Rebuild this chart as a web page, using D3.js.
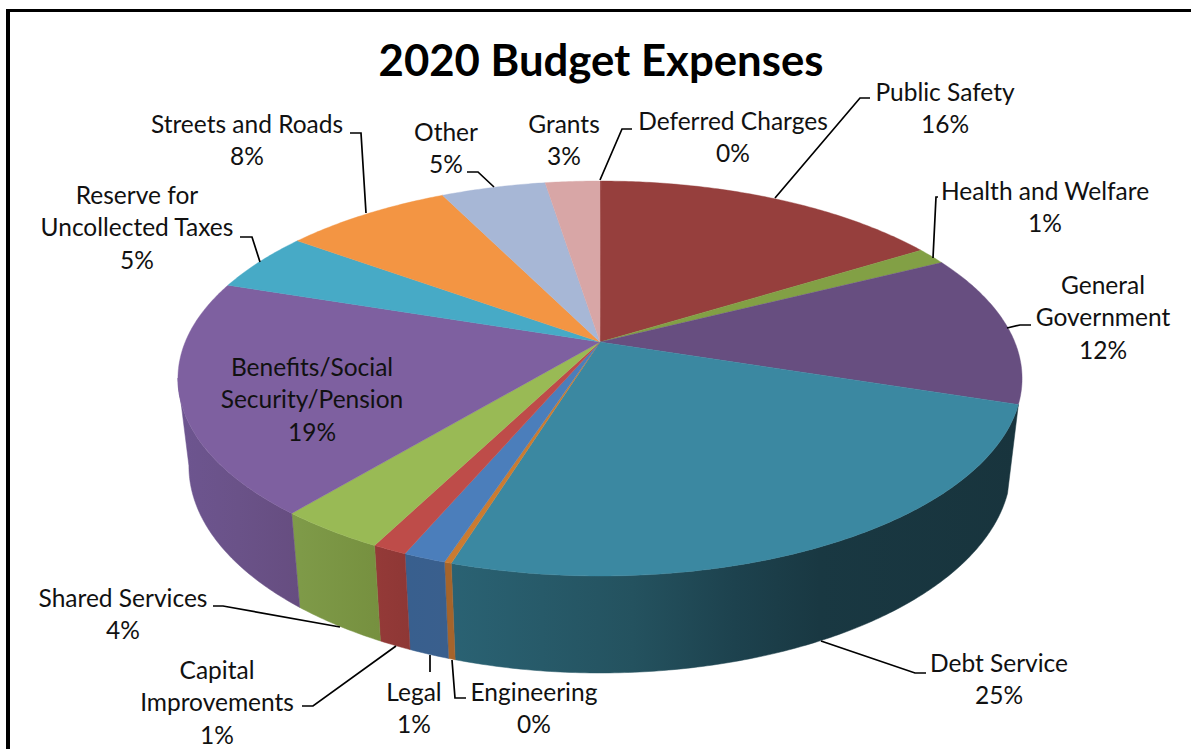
<!DOCTYPE html>
<html>
<head>
<meta charset="utf-8">
<script src="https://cdn.jsdelivr.net/npm/d3@7"></script>
<style>
  html, body { margin: 0; padding: 0; background: #fff; }
  text { font-family: Lato, "Open Sans", sans-serif; fill: #111; }
</style>
</head>
<body>
<div id="chart"></div>
<script>
// Values
let categories = ['Deferred Charges', 'Public Safety', 'Health and Welfare', 'General Government',
    'Debt Service', 'Engineering', 'Legal', 'Capital Improvements', 'Shared Services',
    'Benefits/Social Security/Pension', 'Reserve for Uncollected Taxes', 'Streets and Roads', 'Other', 'Grants'];
let values = [0.05, 16.1, 1.4, 12.45, 24.77, 0.23, 1.38, 1.12, 3.5, 19.1, 4.9, 7.7, 4.8, 2.5];

let topColors = ['#963f3d', '#963f3d', '#82a045', '#674e80', '#3b88a1', '#cb7b31', '#4b7ebb',
    '#be4c49', '#99ba55', '#7e60a0', '#47aac6', '#f39543', '#a7b7d6', '#d8a6a6'];
// side shading, left colour then right colour across the slice
let sideColors = {
    'Debt Service': [[0, '#2a6273'], [0.32, '#24525f'], [0.5, '#1d424e'], [0.65, '#193842'], [1, '#18343d']],
    'Engineering': [[0, '#a5642b'], [1, '#a5642b']],
    'Legal': [[0, '#385f8e'], [1, '#3a5f8d']],
    'Capital Improvements': [[0, '#943a38'], [1, '#8e3735']],
    'Shared Services': [[0, '#7f9b49'], [1, '#76903f']],
    'Benefits/Social Security/Pension': [[0, '#6d5590'], [0.5, '#6a5288'], [1, '#664d80']]
};

// Label lines are split by hand like the original
let labelLines = [['Deferred Charges'], ['Public Safety'], ['Health and Welfare'], ['General', 'Government'],
    ['Debt Service'], ['Engineering'], ['Legal'], ['Capital', 'Improvements'], ['Shared Services'],
    ['Benefits/Social', 'Security/Pension'], ['Reserve for', 'Uncollected Taxes'], ['Streets and Roads'], ['Other'], ['Grants']];

// label centre and first baseline
let labelPos = [[733, 129.5], [945, 100.5], [1045, 199.5], [1103, 293.5], [999, 671.5], [534, 700.5], [414, 700.5],
    [217, 678.5], [123, 606.5], [312, 375.5], [137, 203.5], [247, 132.5], [446, 140.5], [564, 132.5]];

// leader lines
let leaders = [
    [[632, 129], [622, 129], [600, 180]],
    [[870, 98], [860, 98], [775, 198]],
    [[938, 197], [936, 197], [933, 258]],
    [[1031, 325], [1020, 325], [1007, 328]],
    [[926, 673], [915, 673], [821, 641]],
    [[466, 698], [455, 698], [452, 660]],
    [[430, 655], [430, 672]],
    [[302, 706], [313, 706], [396, 646]],
    [[213, 606], [223, 606], [340, 627]],
    [],
    [[240, 237], [252, 237], [260, 262]],
    [[350, 133], [361, 133], [366, 213]],
    [[467, 172], [478, 172], [494, 187]],
    []
];

let svgWidth = 1191, svgHeight = 749;

let svg = d3.select('#chart')
    .append('svg')
    .attr('width', svgWidth)
    .attr('height', svgHeight)
    .style('display', 'block');

// Frame, only top and left fall inside the crop
svg.append('rect')
    .attr('x', 6).attr('y', 9)
    .attr('width', svgWidth - 6).attr('height', 3)
    .attr('fill', '#000');
svg.append('rect')
    .attr('x', 6).attr('y', 9)
    .attr('width', 4).attr('height', svgHeight - 9)
    .attr('fill', '#000');

// Perspective: the unit circle (u right, v toward viewer) goes to the screen
let k = 0.1848;
function project(face, angle) {
    let u = Math.sin(angle), v = -Math.cos(angle);
    let w = 1 - k * v;
    return [600 + face.a * u / w, face.cy + face.b * v / w];
}
let topFace = { a: 414.8, b: 190.75, cy: 342 };
let bottomFace = { a: 404, b: 199.7, cy: 428 };

let line = d3.line();

function rim(face, a0, a1) {
    let n = Math.max(2, Math.ceil((a1 - a0) / 0.01));
    return d3.range(n + 1).map(i => project(face, a0 + (a1 - a0) * i / n));
}

let pie = d3.pie().sort(null).value(d => d);
let arcs = pie(values);

// Side wall, only the part facing the viewer
let visStart = arcs[4].startAngle;
let visEnd = 259.5 * Math.PI / 180;
let defs = svg.append('defs');
let sides = svg.append('g');

arcs.forEach((d, i) => {
    let a0 = Math.max(d.startAngle, visStart);
    let a1 = Math.min(d.endAngle, visEnd);
    if (a1 <= a0) return;
    let topEdge = rim(topFace, a0, a1);
    let bottomEdge = rim(bottomFace, a0, a1).reverse();
    let pts = topEdge.concat(bottomEdge);
    let xs = d3.extent(pts, p => p[0]);
    let id = 'side' + i;
    let grad = defs.append('linearGradient')
        .attr('id', id)
        .attr('gradientUnits', 'userSpaceOnUse')
        .attr('x1', xs[0]).attr('x2', xs[1]).attr('y1', 0).attr('y2', 0);
    sideColors[categories[i]].forEach(s => {
        grad.append('stop').attr('offset', s[0]).attr('stop-color', s[1]);
    });
    sides.append('path')
        .attr('d', line(pts) + 'Z')
        .attr('fill', `url(#${id})`)
        .attr('stroke', `url(#${id})`)
        .attr('stroke-width', 0.5);
});

// Top face
let apex = [600, topFace.cy];
svg.append('g').selectAll('path')
    .data(arcs)
    .enter()
    .append('path')
    .attr('d', d => line([apex].concat(rim(topFace, d.startAngle, d.endAngle))) + 'Z')
    .attr('fill', (d, i) => topColors[i])
    .attr('stroke', (d, i) => topColors[i])
    .attr('stroke-width', 0.4);

// Leader lines
svg.append('g').selectAll('path')
    .data(leaders.filter(l => l.length))
    .enter()
    .append('path')
    .attr('d', d => line(d))
    .attr('fill', 'none')
    .attr('stroke', '#000')
    .attr('stroke-width', 1.7);

// Labels
let labels = svg.append('g');
categories.forEach((c, i) => {
    let lines = labelLines[i].concat([Math.round(values[i]) + '%']);
    let t = labels.append('text')
        .attr('text-anchor', 'middle')
        .attr('font-size', 24.5);
    lines.forEach((s, j) => {
        t.append('tspan')
            .attr('x', labelPos[i][0])
            .attr('y', labelPos[i][1] + j * 32.5)
            .text(s);
    });
});

// Title
svg.append('text')
    .attr('x', 601)
    .attr('y', 76)
    .attr('text-anchor', 'middle')
    .attr('font-size', 43.7)
    .attr('font-weight', 700)
    .style('fill', '#000')
    .text('2020 Budget Expenses');
</script>
</body>
</html>
